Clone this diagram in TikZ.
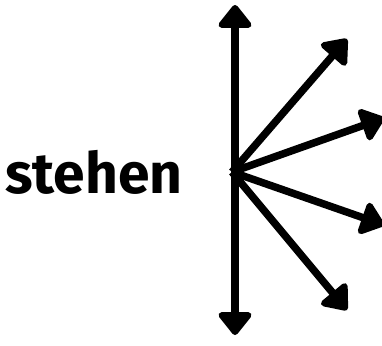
\documentclass[tikz,border=0pt]{standalone}
\usepackage{fontspec}
\setmainfont{Fira Sans}
\usetikzlibrary{arrows.meta}
\begin{document}
\begin{tikzpicture}[x=1pt,y=-1pt,
  tip/.tip={Triangle[length=25pt,width=38pt,round]},
  arr/.style={line width=7.5pt,-tip},
  darr/.style={line width=7.5pt,tip-tip},
  lbl/.style={font=\fontsize{57}{57}\selectfont\bfseries,inner sep=0pt}]
\useasboundingbox (0,0) rectangle (382,345);
\coordinate (c) at (232,172);
\coordinate (top) at (235,5);
\coordinate (bot) at (235,335);
\coordinate (t1) at (347,39);
\coordinate (t2) at (384,118);
\coordinate (t3) at (384,225);
\coordinate (t4) at (347,310);
\draw[darr] (top) -- (bot);
\draw[arr] (c) -- (t1);
\draw[arr] (c) -- (t2);
\draw[arr] (c) -- (t3);
\draw[arr] (c) -- (t4);
\node[lbl,anchor=base west] (s) at (5,193) {stehen};
\end{tikzpicture}
\end{document}
